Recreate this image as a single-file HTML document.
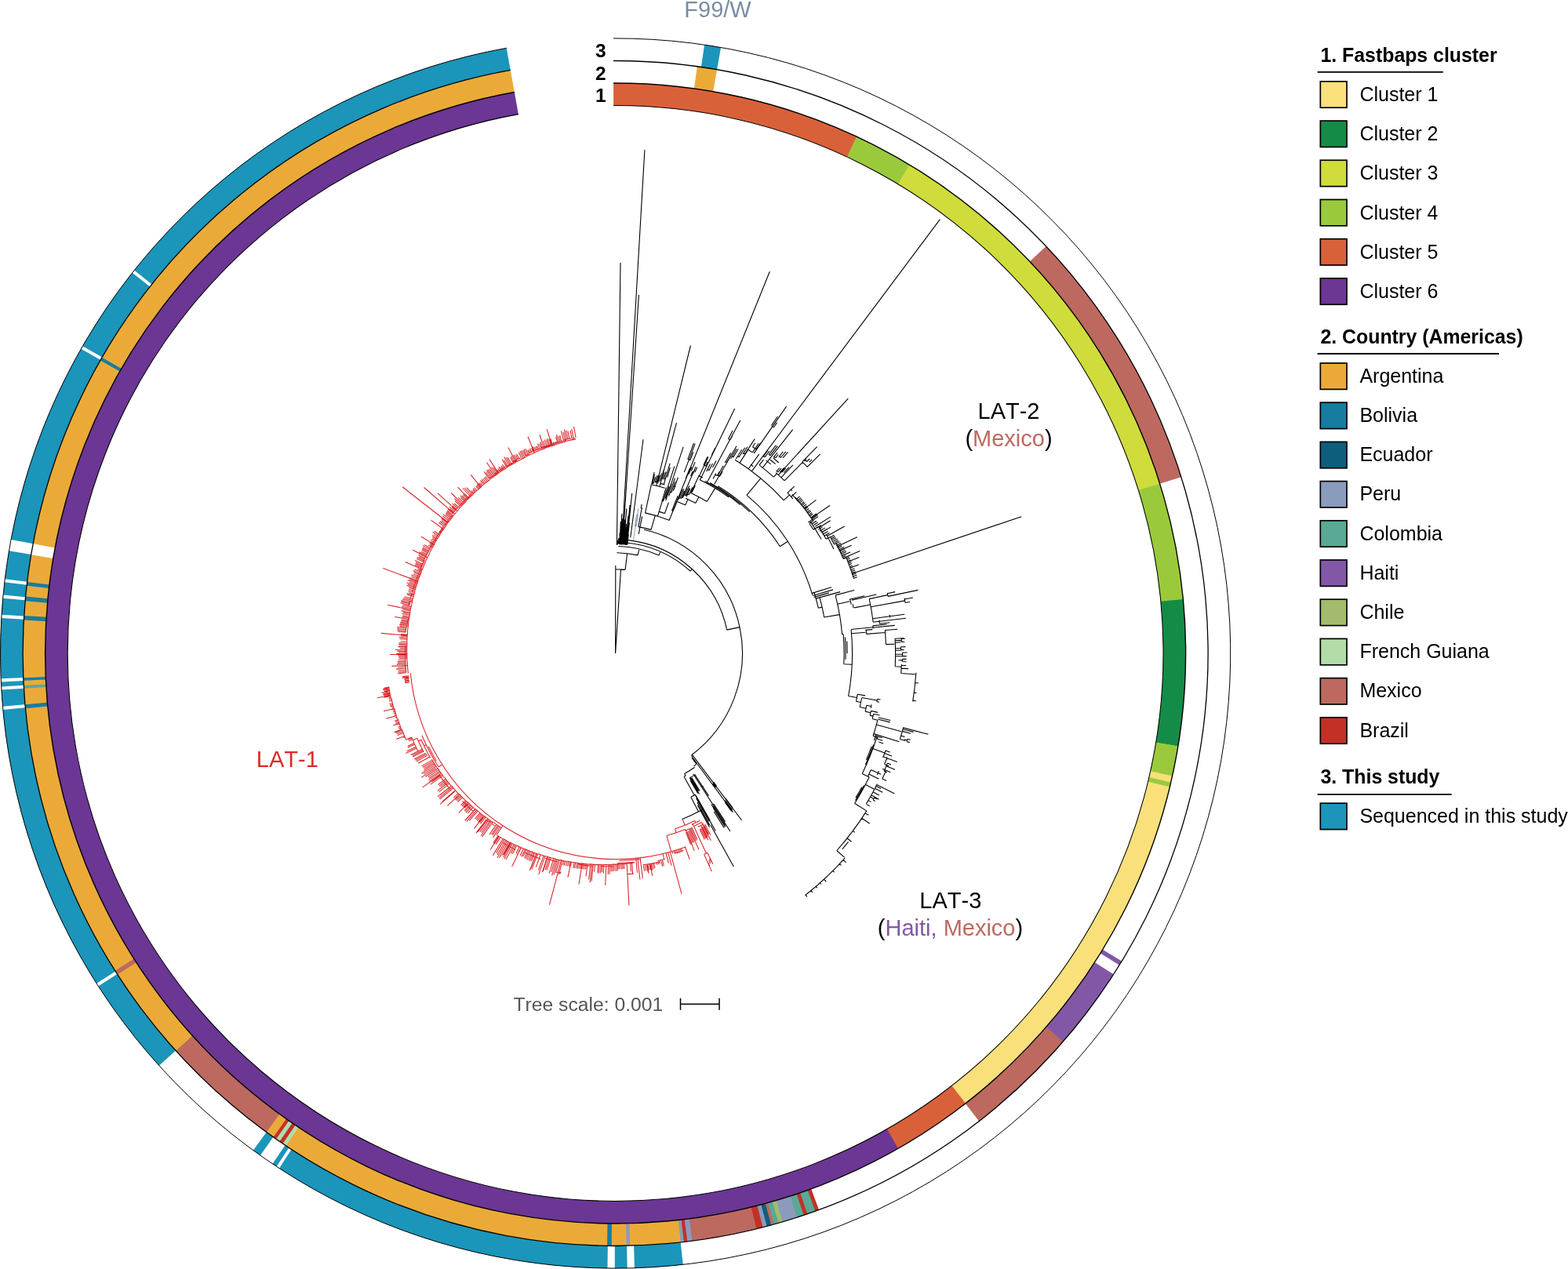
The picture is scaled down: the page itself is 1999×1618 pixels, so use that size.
<!DOCTYPE html>
<html lang="en">
<head>
<meta charset="utf-8">
<title>Circular phylogeny: LAT-1, LAT-2, LAT-3</title>
<style>
html,body{margin:0;padding:0;background:#fff;}
body{width:1999px;height:1618px;overflow:hidden;}
svg{display:block;}
text{white-space:pre;font-kerning:none;}
</style>
</head>
<body>
<svg width="1999" height="1618" viewBox="0 0 1999 1618">
<rect width="1999" height="1618" fill="#fff"/>
<g id="tree">
<path d="M870.0 1044.4L873.2 1052.3M886.0 1046.6A236.5 236.5 0 0 1 860.4 1057.0M860.4 1057.0L862.1 1061.8M873.5 1057.6A241.6 241.6 0 0 1 850.0 1065.6M850.0 1065.6L855.5 1085.2M873.5 1057.6L874.1 1058.9M882.7 1055.3A243.0 243.0 0 0 1 873.3 1059.2M882.3 1055.5L888.9 1070.5M881.1 1056.7L887.6 1071.8M879.8 1057.7L886.1 1072.6M878.5 1058.5L884.8 1073.7M877.4 1059.9L883.3 1074.5M875.9 1060.4L882.1 1075.8M874.5 1061.3L880.6 1076.8M879.5 1056.7L890.9 1083.4M874.8 1058.6L885.2 1084.6M886.0 1046.6L887.1 1048.9M892.4 1046.3A239.0 239.0 0 0 1 881.8 1051.3M894.5 1048.6A242.0 242.0 0 0 1 885.3 1053.0M897.3 1050.5A245.0 245.0 0 0 1 889.7 1054.3M898.6 1051.0L905.8 1064.8M897.6 1052.3L903.5 1063.7M896.6 1053.4L902.8 1065.6M895.4 1054.2L902.1 1067.6M894.5 1055.7L900.8 1068.4M893.2 1056.4L899.5 1069.2M892.0 1057.2L898.2 1070.2M883.3 1050.7L900.3 1088.0M902.0 1087.2A280.0 280.0 0 0 1 897.6 1089.2M902.0 1087.2L908.8 1101.7M897.6 1089.2L907.3 1111.1M904.7 1094.2L907.0 1099.1M903.8 1097.0L905.8 1101.3M905.6 1096.1A289.6 289.6 0 0 1 903.8 1097.0M902.7 1099.6L904.7 1104.0M894.5 1048.6L906.3 1071.8M893.5 1052.4L902.9 1071.3M874.4 1079.7A262.5 262.5 0 0 1 523.3 858.2M854.2 1085.6L869.0 1139.6M873.3 1079.5L879.1 1095.5M868.5 1082.3L869.7 1085.9M866.8 1082.8L867.9 1086.3M864.9 1083.5L866.2 1087.6M862.7 1084.1L864.0 1088.3M860.8 1084.7L861.7 1087.6M859.2 1085.2L860.0 1088.1M857.0 1085.8L857.8 1088.7M871.2 1084.5A266.0 266.0 0 0 1 860.1 1088.0M845.0 1088.5L846.7 1095.8M847.6 1095.5A270.0 270.0 0 0 1 838.4 1097.6M841.2 1099.1A272.0 272.0 0 0 1 819.6 1102.7M844.6 1096.9L846.3 1104.2M842.9 1097.5L844.6 1104.9M840.8 1098.1L841.5 1101.5M839.1 1098.7L839.8 1102.1M837.2 1099.2L837.9 1102.6M833.6 1100.3L834.9 1107.1M831.8 1100.8L833.1 1107.8M830.1 1101.3L831.5 1109.7M828.0 1101.8L829.2 1109.0M826.1 1102.3L827.2 1109.3M824.5 1102.7L825.7 1110.9M822.5 1103.2L823.5 1110.0M820.5 1103.6L821.5 1110.7M829.2 1102.3L831.6 1116.6M825.4 1102.9L827.1 1113.8M849.0 1087.5L852.3 1100.6M851.7 1086.8L856.1 1103.7M816.1 1093.6L819.3 1119.9M812.9 1094.0L815.9 1121.3M810.7 1094.2L812.5 1112.6M816.8 1095.5A264.5 264.5 0 0 1 789.2 1097.5M808.8 1099.4A267.5 267.5 0 0 1 786.9 1100.5M799.1 1100.1L802.0 1154.5M805.6 1099.7L806.7 1114.1M807.7 1114.1A282.0 282.0 0 0 1 799.4 1114.6M803.7 1099.8L804.5 1111.3M795.4 1100.8L795.7 1107.9M793.6 1100.8L793.8 1108.2M791.8 1100.9L792.0 1108.2M789.7 1101.0L789.8 1108.1M787.8 1101.0L787.9 1108.5M808.0 1100.2A268.2 268.2 0 0 1 798.4 1100.9M798.7 1101.3A268.7 268.7 0 0 1 789.1 1101.7M789.3 1102.1A269.2 269.2 0 0 1 779.7 1102.1M779.9 1102.6A269.7 269.7 0 0 1 770.3 1102.3M770.5 1102.8A270.1 270.1 0 0 1 760.8 1102.1M761.0 1102.6A270.6 270.6 0 0 1 751.4 1101.6M751.6 1102.1A271.1 271.1 0 0 1 742.0 1100.7M742.1 1101.2A271.6 271.6 0 0 1 732.6 1099.5M732.7 1100.0A272.0 272.0 0 0 1 723.2 1098.0M723.3 1098.5A272.5 272.5 0 0 1 713.8 1096.2M713.9 1096.7A273.0 273.0 0 0 1 704.6 1094.0M704.7 1094.5A273.4 273.4 0 0 1 695.3 1091.5M695.4 1092.0A273.9 273.9 0 0 1 686.2 1088.6M686.3 1089.2A274.4 274.4 0 0 1 677.2 1085.5M677.2 1086.0A274.9 274.9 0 0 1 668.2 1082.0M668.2 1082.5A275.3 275.3 0 0 1 659.4 1078.2M659.4 1078.8A275.8 275.8 0 0 1 650.7 1074.1M650.7 1074.6A276.3 276.3 0 0 1 642.1 1069.7M642.1 1070.2A276.8 276.8 0 0 1 633.9 1065.1M787.1 1101.5L787.2 1110.6M785.2 1101.6L785.2 1111.1M783.1 1101.7L783.0 1110.6M781.3 1101.8L781.1 1111.2M779.3 1101.9L779.2 1111.1M777.5 1101.9L777.2 1114.4M775.6 1102.0L775.2 1114.9M770.0 1102.0L769.3 1113.5M767.9 1102.0L767.3 1112.0M766.2 1102.0L765.5 1113.0M764.3 1102.0L763.4 1113.6M762.6 1101.9L761.7 1112.9M758.6 1101.8L757.7 1111.6M754.8 1101.6L752.2 1125.1M752.9 1101.5L750.6 1121.4M749.1 1101.2L747.0 1117.4M747.5 1101.1L746.4 1108.5M745.5 1100.9L744.4 1108.5M743.7 1100.7L742.5 1108.1M741.5 1100.5L740.3 1108.0M739.6 1100.3L738.4 1107.7M737.7 1100.1L736.4 1107.6M736.0 1099.9L734.7 1107.2M733.9 1099.6L732.5 1107.0M732.2 1099.4L730.8 1106.8M728.5 1098.8L727.2 1104.9M726.7 1098.5L725.4 1104.6M724.8 1098.2L723.4 1104.3M722.8 1097.9L721.4 1104.0M720.7 1097.5L719.3 1103.6M719.0 1097.2L717.5 1103.2M717.1 1096.8L712.5 1115.0M715.4 1096.5L711.1 1113.0M713.2 1096.0L708.6 1113.0M711.4 1095.6L705.9 1115.5M709.7 1095.2L703.6 1116.3M707.9 1094.8L702.8 1111.9M705.9 1094.3L700.2 1113.4M702.2 1093.4L697.1 1109.5M700.4 1092.9L695.2 1109.0M698.5 1092.4L692.3 1111.0M694.9 1091.4L686.8 1114.9M693.1 1090.9L686.5 1109.5M689.2 1089.7L683.3 1105.6M685.6 1088.5L677.9 1108.3M683.9 1088.0L675.3 1109.7M681.8 1087.3L677.6 1097.8M680.2 1086.7L675.5 1098.1M678.5 1086.1L674.0 1096.7M676.5 1085.4L671.8 1096.4M674.7 1084.7L670.1 1095.4M673.1 1084.1L668.7 1094.0M671.0 1083.3L667.0 1092.1M669.5 1082.7L665.1 1092.2M667.5 1081.9L663.2 1091.1M664.1 1080.5L659.7 1089.5M662.2 1079.6L657.8 1088.3M658.7 1078.1L653.3 1088.7M657.0 1077.3L651.4 1088.0M655.3 1076.6L645.0 1096.1M653.3 1075.6L642.9 1094.9M651.7 1074.9L641.8 1093.0M649.8 1073.9L640.4 1090.8M648.2 1073.2L636.5 1093.7M646.5 1072.3L634.1 1093.7M644.8 1071.4L634.0 1090.0M642.9 1070.4L632.7 1087.6M641.2 1069.5L628.4 1090.6M637.8 1067.6L632.1 1076.7M636.2 1066.8L630.6 1075.7M634.7 1065.9L628.9 1074.9M756.1 1104.5A273.0 273.0 0 0 1 737.2 1101.9M710.8 1099.0A276.0 276.0 0 0 1 694.7 1094.0M689.2 1095.2A279.0 279.0 0 0 1 668.9 1086.9M782.2 1105.0A272.0 272.0 0 0 1 765.6 1104.3M657.0 1083.4A281.0 281.0 0 0 1 639.9 1073.9M715.6 1096.1L700.5 1153.6M772.8 1102.7L771.7 1128.7M664.5 1080.4L652.7 1104.7M635.8 1066.6L625.0 1083.5M742.2 1100.7L738.0 1127.3M697.7 1092.8L691.3 1111.8M683.8 1088.9L676.1 1108.4M650.8 1074.4L642.1 1090.1M756.3 1102.5L754.1 1123.4M728.0 1099.1L723.9 1118.6M715.2 1111.5L714.7 1113.4M714.7 1113.4A289.0 289.0 0 0 1 709.8 1112.2M640.9 1052.7L632.9 1064.8M639.8 1055.9A265.8 265.8 0 0 1 628.2 1047.9M628.1 1048.5A266.3 266.3 0 0 1 616.8 1039.8M616.6 1040.4A266.9 266.9 0 0 1 605.8 1031.2M605.6 1031.7A267.4 267.4 0 0 1 595.3 1021.9M595.1 1022.5A268.0 268.0 0 0 1 585.3 1012.2M585.0 1012.7A268.6 268.6 0 0 1 575.7 1001.8M575.5 1002.4A269.1 269.1 0 0 1 566.7 991.0M566.4 991.5A269.7 269.7 0 0 1 558.3 979.7M558.0 980.2A270.2 270.2 0 0 1 550.5 967.9M637.4 1054.5L630.3 1065.2M635.7 1053.5L628.2 1064.7M634.4 1052.7L626.6 1064.1M632.7 1051.6L624.1 1063.9M628.0 1048.5L614.7 1066.9M626.5 1047.5L613.1 1065.8M625.1 1046.6L614.0 1061.5M623.5 1045.4L612.0 1060.6M621.9 1044.3L609.1 1060.9M618.9 1042.1L612.3 1050.4M617.5 1041.1L611.4 1048.7M616.1 1040.1L609.8 1047.9M614.6 1038.9L608.2 1046.7M613.1 1037.8L607.1 1045.0M611.8 1036.7L605.4 1044.2M608.7 1034.3L598.4 1046.1M607.4 1033.2L595.0 1047.3M605.9 1031.9L593.4 1045.9M603.0 1029.5L596.3 1036.9M601.5 1028.2L594.0 1036.2M600.1 1027.0L593.0 1034.5M599.0 1026.0L592.0 1033.3M597.6 1024.8L592.3 1030.2M596.2 1023.5L590.8 1028.9M594.8 1022.2L589.0 1028.0M593.5 1020.9L587.7 1026.5M589.3 1016.9L583.4 1022.5M588.0 1015.6L582.4 1020.7M586.7 1014.3L580.7 1019.8M585.4 1013.0L579.5 1018.3M584.1 1011.6L578.1 1016.9M580.4 1007.7L564.0 1021.8M577.8 1004.8L560.5 1019.1M576.7 1003.5L559.8 1017.4M575.4 1002.1L561.5 1013.4M572.9 999.2L559.5 1009.8M571.6 997.7L557.7 1008.4M570.5 996.3L561.5 1003.1M569.3 994.9L559.8 1002.1M568.1 993.3L558.5 1000.5M564.7 988.9L548.8 1000.1M563.6 987.5L550.8 996.5M562.4 986.0L547.2 996.4M561.3 984.4L546.5 994.4M560.3 983.1L546.9 992.1M559.2 981.6L545.6 990.6M558.1 980.0L542.4 990.3M556.0 977.0L540.3 986.9M554.9 975.4L537.5 986.2M553.9 973.8L540.3 982.2M552.9 972.4L540.6 979.8M551.8 970.7L539.0 978.3M550.8 969.1L537.4 976.9M630.6 1052.9A268.5 268.5 0 0 1 619.3 1044.6M603.3 1034.4A271.0 271.0 0 0 1 589.7 1021.3M575.5 1008.5A273.0 273.0 0 0 1 561.0 989.6M620.3 1044.8L606.9 1062.1M616.3 1041.6L604.4 1056.4M636.3 1056.2L628.5 1067.9M584.6 1014.4L570.5 1027.1M579.9 1009.1L561.0 1025.4M574.5 1002.6L558.1 1015.7M561.2 988.2L538.7 1003.9M555.5 979.5L536.9 991.4M605.3 1032.2L592.6 1046.3M596.1 1024.9L584.8 1036.3M563.7 974.8L559.1 977.8M559.1 977.8A268.0 268.0 0 0 1 537.9 937.7M556.3 970.2A266.3 266.3 0 0 1 546.3 951.8M543.3 949.6L540.6 950.9M548.7 966.4A271.0 271.0 0 0 1 537.0 943.2M537.0 943.2L533.4 944.9M539.6 957.8A275.0 275.0 0 0 1 531.8 941.3M531.8 941.3L526.3 943.7M532.9 957.9A281.0 281.0 0 0 1 524.8 940.1M524.8 940.1L517.9 942.9M547.5 965.2L533.0 973.3M545.2 962.9L530.9 970.7M544.0 961.5L529.4 969.3M542.8 960.2L528.3 967.8M540.5 957.7L526.1 965.1M539.4 956.5L525.9 963.2M538.3 955.3L523.6 962.6M531.0 954.0L517.4 960.4M530.2 952.4L518.7 957.7M528.7 949.1L519.9 953.1M528.0 947.6L519.8 951.2M525.9 942.7L521.1 944.7M525.2 941.0L520.4 943.0M517.5 943.1A288.9 288.9 0 0 1 512.4 929.7M511.7 930.2A289.7 289.7 0 0 1 507.2 916.5M506.5 917.0A290.5 290.5 0 0 1 502.7 903.0M502.0 903.5A291.3 291.3 0 0 1 498.8 889.3M498.1 889.7A292.1 292.1 0 0 1 495.6 875.4M515.9 939.7L514.0 940.4M513.7 934.8L506.7 937.4M512.9 932.9L505.6 935.6M512.2 931.2L504.0 934.2M511.5 929.7L509.0 930.5M510.8 927.9L508.3 928.8M510.1 926.3L507.7 927.1M508.8 922.8L505.3 924.0M508.1 921.2L504.3 922.4M507.4 919.4L503.8 920.5M506.9 917.9L503.2 919.0M505.6 914.4L503.7 915.0M505.0 912.6L503.0 913.1M504.4 910.7L502.4 911.3M503.8 909.0L501.8 909.5M503.2 907.2L501.2 907.8M502.7 905.5L500.7 906.0M502.2 904.0L500.2 904.5M501.6 901.9L499.6 902.4M501.0 900.2L497.7 900.9M500.6 898.6L497.2 899.4M500.0 896.7L496.5 897.5M499.1 893.3L496.4 893.9M498.6 891.5L495.9 892.0M498.1 889.6L495.4 890.1M497.2 887.6L489.6 889.1M497.0 886.4L489.6 887.7M496.7 884.9L488.6 886.4M496.5 883.6L488.7 884.9M496.0 880.5L489.9 881.5M495.8 879.2L488.9 880.3M495.5 877.5L488.8 878.6M495.3 876.4L489.4 877.3M494.8 888.3A295.0 295.0 0 0 1 492.8 876.6M497.6 886.7L480.9 889.8M502.2 903.4L489.1 906.7M504.7 912.7L492.2 916.3M511.4 930.3L502.5 933.5M496.7 881.7L486.8 883.4M496.0 877.7L488.1 878.9M508.8 922.6L501.2 925.1M515.5 938.4L505.3 942.5M522.2 870.0L516.2 870.8M522.0 868.5L516.0 869.3M521.8 867.3L515.9 868.1M521.6 865.7L515.7 866.5M521.5 864.4L515.5 865.1M521.3 863.1L512.7 864.1M521.2 861.8L513.2 862.6M520.3 858.5A265.6 265.6 0 0 1 519.3 845.1M519.1 845.4A265.8 265.8 0 0 1 518.8 832.0M518.6 832.2A266.0 266.0 0 0 1 519.0 818.8M518.7 819.1A266.3 266.3 0 0 1 519.7 805.7M519.4 805.9A266.6 266.6 0 0 1 521.1 792.6M520.8 792.8A266.9 266.9 0 0 1 523.1 779.6M522.8 779.7A267.2 267.2 0 0 1 525.8 766.6M525.4 766.8A267.6 267.6 0 0 1 529.0 753.8M528.6 753.9A267.9 267.9 0 0 1 532.9 741.1M532.5 741.2A268.3 268.3 0 0 1 537.4 728.7M537.0 728.7A268.7 268.7 0 0 1 542.5 716.4M542.1 716.4A269.1 269.1 0 0 1 548.2 704.4M547.8 704.4A269.5 269.5 0 0 1 554.5 692.7M554.0 692.6A269.9 269.9 0 0 1 561.4 681.2M560.9 681.2A270.4 270.4 0 0 1 568.8 670.1M568.3 670.0A270.8 270.8 0 0 1 576.8 659.4M576.3 659.3A271.2 271.2 0 0 1 585.3 649.0M584.8 648.9A271.7 271.7 0 0 1 594.3 639.0M593.8 638.9A272.2 272.2 0 0 1 603.8 629.5M603.4 629.3A272.6 272.6 0 0 1 613.8 620.5M613.3 620.2A273.1 273.1 0 0 1 624.3 611.9M623.8 611.6A273.6 273.6 0 0 1 635.1 603.8M634.6 603.6A274.1 274.1 0 0 1 646.4 596.3M645.9 596.0A274.6 274.6 0 0 1 658.0 589.3M657.6 589.0A275.1 275.1 0 0 1 670.0 582.9M669.6 582.5A275.6 275.6 0 0 1 682.3 577.1M681.9 576.7A276.1 276.1 0 0 1 694.9 571.8M694.5 571.4A276.7 276.7 0 0 1 707.8 567.2M707.4 566.8A277.2 277.2 0 0 1 720.9 563.2M720.6 562.8A277.7 277.7 0 0 1 734.2 559.9M517.3 851.7A268.0 268.0 0 0 1 516.8 823.6M520.9 772.1A270.6 270.6 0 0 1 541.3 714.4M549.1 697.0A272.0 272.0 0 0 1 564.6 673.1M581.2 649.9A273.7 273.7 0 0 1 601.5 629.6M630.2 604.1A276.1 276.1 0 0 1 659.2 587.0M689.2 571.0A278.9 278.9 0 0 1 721.9 561.3M517.7 857.8L507.4 858.7M517.6 856.2L507.5 857.0M517.4 854.2L507.5 855.0M517.2 852.3L505.1 853.1M517.1 850.3L507.0 851.0M516.9 848.5L508.2 849.0M516.8 846.6L505.8 847.1M516.7 844.8L506.9 845.2M516.6 843.2L506.8 843.6M516.5 841.2L507.7 841.5M517.7 857.8A268.0 268.0 0 0 1 516.7 839.3M518.9 839.2L508.8 839.5M518.9 837.5L508.0 837.6M518.8 835.5L507.5 835.6M518.8 833.6L505.2 833.6M518.7 831.8L507.9 831.7M518.7 830.2L506.3 830.1M518.7 828.5L503.8 828.2M518.7 826.7L510.2 826.5M518.7 824.9L507.5 824.6M518.7 823.3L508.7 823.0M518.8 821.8L508.2 821.3M518.8 820.2L508.6 819.7M518.9 818.2L510.7 817.8M519.0 815.1L509.4 814.5M519.1 813.2L508.8 812.4M519.2 811.2L511.2 810.6M519.3 809.3L510.9 808.5M517.0 806.1L507.2 805.1M517.2 804.5L506.5 803.4M517.3 802.7L506.4 801.5M517.5 801.0L506.2 799.6M517.0 806.1A268.9 268.9 0 0 1 517.8 799.4M518.6 799.5L509.7 798.4M518.8 797.7L509.2 796.4M519.0 796.1L510.0 794.9M519.2 794.4L510.4 793.1M519.4 792.6L511.5 791.4M519.6 791.0L511.6 789.8M518.6 799.5A268.1 268.1 0 0 1 520.1 789.3M521.4 789.5L503.2 786.5M521.6 787.9L512.6 786.4M521.9 786.2L513.3 784.7M522.2 784.3L512.5 782.5M522.4 782.5L514.0 780.9M522.7 781.0L511.3 778.7M523.0 779.0L513.2 777.0M523.4 777.3L512.2 774.9M523.7 775.5L512.3 773.0M524.1 773.6L513.3 771.2M522.0 771.5L510.4 768.8M522.3 769.7L511.5 767.1M522.7 768.2L511.5 765.4M522.0 771.5A269.7 269.7 0 0 1 523.2 766.5M525.5 767.0L513.1 763.9M525.8 765.5L514.4 762.5M526.3 763.6L515.5 760.7M527.0 760.6L518.9 758.3M527.4 759.0L518.4 756.4M527.8 757.5L521.3 755.6M528.3 755.6L520.4 753.2M528.9 753.7L521.1 751.3M529.4 751.8L521.4 749.3M529.8 750.3L518.4 746.6M530.3 748.8L519.9 745.3M530.8 747.2L518.7 743.1M531.3 745.5L522.0 742.3M531.8 743.8L519.6 739.5M532.3 742.3L522.3 738.7M532.9 740.5L521.8 736.4M533.6 738.6L524.5 735.2M534.2 736.7L524.2 732.9M534.9 734.9L527.2 731.9M535.5 733.0L527.5 729.8M536.2 731.4L526.5 727.4M536.9 729.5L528.5 726.0M537.5 727.9L532.2 725.6M538.2 726.2L532.6 723.8M536.5 723.5L529.1 720.2M537.2 722.1L529.5 718.6M537.8 720.6L530.0 717.0M538.5 718.9L529.1 714.6M536.5 723.5A271.1 271.1 0 0 1 539.3 717.5M539.6 716.3L531.3 712.4M540.3 714.7L531.6 710.5M539.6 716.3A271.4 271.4 0 0 1 541.1 713.3M541.0 713.2L534.1 709.9M541.7 711.8L533.6 707.7M542.4 710.1L533.6 705.6M543.3 708.3L534.4 703.8M544.1 706.7L537.3 703.2M544.9 704.9L537.8 701.1M545.7 703.5L538.4 699.5M546.4 702.0L538.8 697.9M547.3 700.3L538.9 695.6M548.1 698.7L540.6 694.4M541.0 713.2A271.5 271.5 0 0 1 549.6 697.2M551.2 698.2L546.0 695.1M552.0 696.8L547.8 694.3M552.9 695.2L547.5 692.0M553.7 693.6L549.3 690.9M554.6 692.1L548.7 688.4M555.6 690.3L550.6 687.2M556.6 688.6L551.3 685.3M557.5 687.1L550.8 682.8M558.5 685.4L552.7 681.6M559.6 683.7L551.7 678.5M560.6 682.0L553.7 677.3M561.7 680.4L559.3 678.7M562.5 679.0L559.8 677.1M563.5 677.5L561.2 675.9M564.5 676.0L562.1 674.3M565.4 674.7L549.4 663.1M566.3 673.3L563.7 671.5M566.0 671.1L559.4 666.3M567.1 669.5L560.8 664.7M568.3 667.9L562.8 663.7M569.4 666.4L562.8 661.3M570.3 665.1L564.3 660.4M566.0 671.1A272.0 272.0 0 0 1 571.7 663.7M571.5 663.5L564.3 657.8M572.7 661.9L565.2 655.9M573.8 660.4L568.1 655.8M574.8 659.2L568.5 654.0M575.8 657.9L569.3 652.5M571.5 663.5A272.3 272.3 0 0 1 577.0 656.8M576.0 656.0L570.2 651.0M577.2 654.4L571.0 649.0M578.3 653.1L573.6 649.1M579.3 651.9L572.8 646.2M580.5 650.5L576.1 646.6M581.6 649.1L577.2 645.1M582.8 647.7L576.4 641.8M584.0 646.3L579.4 642.0M576.0 656.0A273.6 273.6 0 0 1 585.4 645.4M586.6 644.9L580.0 638.6M587.8 643.5L579.5 635.6M586.6 644.9A273.1 273.1 0 0 1 589.2 642.2M589.1 642.1L575.2 628.5M590.5 640.6L584.1 634.3M591.9 639.1L587.2 634.4M589.1 642.1A273.2 273.2 0 0 1 593.1 638.1M593.0 637.9L587.0 631.8M594.1 636.8L589.3 631.8M595.4 635.5L590.4 630.3M596.6 634.2L592.4 629.6M593.0 637.9A273.4 273.4 0 0 1 598.1 633.1M598.8 632.0L590.0 622.5M600.2 630.6L592.3 622.0M601.6 629.2L594.8 621.6M598.8 632.0A273.7 273.7 0 0 1 602.9 628.2M603.8 629.2L600.6 625.6M605.3 627.9L602.6 624.8M606.4 626.7L603.1 622.8M607.8 625.5L604.7 621.9M609.9 623.6L606.7 619.8M611.1 622.6L607.9 618.7M612.3 621.5L608.4 616.8M613.8 620.2L610.4 615.9M615.2 619.0L612.2 615.3M616.7 617.7L612.5 612.4M618.1 616.5L614.1 611.4M619.6 615.3L615.7 610.0M621.2 614.0L617.4 608.9M622.8 612.8L618.9 607.6M623.5 610.3L616.9 601.3M624.7 609.3L619.6 602.1M626.3 608.1L620.4 599.6M627.7 607.1L621.8 598.6M629.3 605.9L623.8 597.9M630.7 604.8L620.4 589.5M632.2 603.7L626.7 595.5M633.6 602.8L629.1 596.0M623.5 610.3A274.9 274.9 0 0 1 635.5 602.1M636.0 602.9L633.5 599.0M637.7 601.7L634.8 597.3M639.3 600.6L635.9 595.1M640.8 599.6L638.3 595.5M642.2 598.7L639.4 594.0M643.7 597.7L640.5 592.3M645.5 594.8L640.1 585.5M646.9 593.9L642.7 586.7M648.6 592.8L642.7 582.4M650.2 591.9L645.3 583.2M651.6 591.0L647.3 583.3M645.5 594.8A275.9 275.9 0 0 1 653.1 590.5M653.6 588.7L650.5 583.1M655.0 587.9L651.7 581.6M656.7 586.9L653.6 580.7M658.2 586.1L655.1 580.1M659.8 585.2L657.3 580.3M661.4 584.3L658.7 578.8M653.6 588.7A277.2 277.2 0 0 1 663.4 583.7M665.4 585.0L661.4 576.8M667.1 584.1L663.0 575.3M668.8 583.2L664.7 574.4M669.8 581.0L666.7 574.3M671.2 580.3L667.9 572.8M673.1 579.4L669.8 572.0M669.8 581.0A276.9 276.9 0 0 1 674.8 578.8M674.3 577.7L672.6 573.7M675.8 577.0L674.3 573.3M677.5 576.2L675.5 571.4M679.4 575.4L677.7 571.2M681.2 574.5L679.2 569.5M682.9 573.8L681.4 570.0M684.6 573.0L683.1 569.1M686.1 572.4L684.7 568.7M674.3 577.7A278.1 278.1 0 0 1 688.0 572.2M688.2 572.6L685.6 565.7M690.1 571.9L687.8 565.6M691.6 571.2L688.8 563.5M693.5 570.5L687.9 554.3M695.2 569.8L692.6 562.1M697.1 569.1L694.3 560.6M699.0 568.4L696.5 560.7M700.6 567.8L697.7 558.8M702.3 567.2L700.0 559.6M704.1 566.6L702.0 559.6M688.2 572.6A277.7 277.7 0 0 1 706.0 566.7M706.2 567.4L705.2 563.9M707.8 566.9L706.8 563.3M709.5 566.3L708.6 563.0M710.7 564.4L708.6 556.6M712.3 563.9L709.6 554.0M714.1 563.4L712.2 556.2M715.8 562.8L713.8 554.8M710.7 564.4A278.6 278.6 0 0 1 717.5 562.6M718.4 561.1L715.5 549.5M720.3 560.5L718.1 551.2M722.1 560.0L719.3 547.7M723.9 559.5L721.5 548.7M725.9 559.0L723.8 549.4M718.4 561.1A279.9 279.9 0 0 1 727.8 558.9M729.1 559.3L727.0 548.8M731.1 558.8L728.8 546.9M729.1 559.3A279.3 279.3 0 0 1 732.9 558.5M734.1 558.1L731.5 543.9M519.4 848.3L499.5 849.4M518.8 834.4L497.0 834.5M519.3 810.3L486.0 807.4M523.3 777.5L494.1 771.3M532.8 740.9L488.3 724.6M571.3 666.3L513.0 620.8M579.6 655.4L540.5 621.5M582.9 651.4L557.9 628.9M538.3 725.9L516.8 716.6M544.8 710.8L526.2 701.3M553.5 694.1L536.9 684.2M597.3 635.6L583.6 621.2M612.9 621.0L600.2 605.3M635.4 603.3L623.9 585.6M657.7 589.2L647.9 570.4M681.3 577.2L673.0 556.7M703.7 568.3L697.2 547.1" fill="none" stroke="#D8262A" stroke-width="1.08" stroke-linecap="butt" />
<path d="M807.4 688.8L813.9 648.3M809.4 670.9L811.7 656.1M811.1 671.2L813.5 656.4M809.4 670.9A164.0 164.0 0 0 1 811.1 671.2M810.5 664.0A171.0 171.0 0 0 1 812.2 664.2M811.7 656.1A179.0 179.0 0 0 1 813.5 656.4" fill="none" stroke="#8A9CB4" stroke-width="1.0" stroke-linecap="butt" />
<path d="M784.6 833.0L784.8 721.0M784.6 833.0L791.5 725.9M785.2 725.7A107.3 107.3 0 0 1 797.1 726.4M797.1 726.4L799.6 705.6M786.4 704.7A128.3 128.3 0 0 1 813.0 707.9M813.0 707.9L814.9 699.8M788.4 696.5A136.6 136.6 0 0 1 839.9 708.1M839.9 708.1L842.0 703.4M796.0 691.7A141.8 141.8 0 0 1 880.0 728.1M880.0 728.1L882.3 725.6M800.0 688.6A145.2 145.2 0 0 1 926.7 803.1M926.7 803.1L943.1 799.6M821.0 675.2A162.0 162.0 0 0 1 881.6 962.7M786.5 694.1L786.6 688.5M786.9 692.9L786.9 688.4M787.3 693.0L787.3 689.9M787.7 694.3L787.8 691.0M788.2 692.1L788.3 688.6M788.5 692.7L788.7 685.9M789.0 693.4L789.2 686.5M789.3 692.0L789.5 687.8M789.7 694.2L790.2 679.0M790.3 694.1L791.1 674.2M790.6 693.5L791.5 674.2M790.9 694.5L791.5 681.0M791.5 693.4L792.2 678.1M791.9 693.3L792.6 678.3M792.4 692.6L793.1 678.5M792.7 693.2L794.1 668.3M793.1 693.9L794.7 667.3M793.4 693.5L794.8 670.7M793.8 693.3L794.5 682.7M794.4 692.5L795.8 672.9M794.7 693.9L796.3 672.2M795.1 693.2L796.5 675.5M795.7 692.1L797.1 674.1M795.8 694.8L797.6 672.9M796.5 692.0L798.5 668.1M796.6 693.9L798.5 672.6M797.0 693.7L798.1 680.9M797.3 694.9L799.4 671.9M797.8 694.4L799.4 677.8M798.3 694.9L800.1 677.4M798.9 692.6L801.3 668.8M799.2 694.4L801.0 677.5M799.6 692.7L802.4 666.5M799.8 694.8L801.3 680.9M789.8 693.6A139.5 139.5 0 0 1 794.6 693.9M791.1 692.1A141.0 141.0 0 0 1 794.8 692.4M789.1 690.1A143.0 143.0 0 0 1 793.7 690.3M790.4 688.6A144.5 144.5 0 0 1 795.8 688.9M792.6 686.7A146.5 146.5 0 0 1 798.7 687.2M791.1 684.6A148.5 148.5 0 0 1 796.9 685.0M791.8 682.7A150.5 150.5 0 0 1 794.7 682.8M792.8 680.2A153.0 153.0 0 0 1 799.6 680.7M792.8 677.2A156.0 156.0 0 0 1 799.9 677.7M791.1 674.1A159.0 159.0 0 0 1 796.1 674.4M791.4 683.2L792.7 655.2M792.5 683.2L793.6 661.2M796.1 683.4L798.8 648.5M798.5 683.6L800.9 657.8M799.2 683.7L803.1 643.9M790.6 683.1L791.3 665.1M795.1 683.4L796.5 662.4M786.4 695.0L791.0 335.0M793.3 683.3L821.9 191.1M794.4 683.3L814.4 376.0M803.8 685.2L820.0 560.3M800.0 683.8L805.7 629.1M814.2 680.8L818.6 658.3M813.6 671.6A164.0 164.0 0 0 1 830.1 675.4M813.9 671.6L818.2 648.0M817.2 647.9A188.0 188.0 0 0 1 819.2 648.2M817.2 647.9L818.1 642.9M830.1 675.4L835.3 657.2M822.3 653.9A183.0 183.0 0 0 1 853.7 663.6M822.6 654.0L830.3 617.8M830.3 617.8A220.0 220.0 0 0 1 847.5 622.2M831.7 616.8L834.4 604.6M833.5 616.2L835.3 608.1M831.9 615.9A222.2 222.2 0 0 1 833.5 616.2M835.4 615.1L837.4 606.4M837.3 614.1L839.2 606.1M835.7 613.7A225.2 225.2 0 0 1 837.3 614.1M838.8 614.5L841.0 605.8M840.7 613.6L843.3 603.4M839.2 613.2A226.5 226.5 0 0 1 840.7 613.6M842.5 613.2L846.1 599.5M844.8 610.8L847.2 602.3M843.2 610.4A230.2 230.2 0 0 1 844.8 610.8M846.4 611.3L849.2 601.4M848.4 610.5L850.8 602.1M846.8 610.0A231.5 231.5 0 0 1 848.4 610.5M850.7 608.5L854.3 596.0M835.0 614.7A224.0 224.0 0 0 1 839.5 615.8M841.8 616.4A224.0 224.0 0 0 1 847.5 618.0M836.8 619.3L880.4 440.5M840.9 620.3L862.5 539.1M830.7 617.9L834.1 602.2M846.3 617.7L854.1 590.8M838.4 658.1L845.2 636.1M840.2 652.4A189.0 189.0 0 0 1 847.1 654.6M847.4 654.7L852.4 640.6M843.8 639.4L849.3 621.5M845.5 639.0L849.7 625.5M844.0 638.6A203.3 203.3 0 0 1 845.5 639.0M848.3 635.5L853.2 620.2M851.4 630.9L856.1 616.8M849.9 630.4A212.9 212.9 0 0 1 851.4 630.9M852.6 632.6L860.4 609.6M855.9 628.0L860.7 614.1M854.3 627.4A217.1 217.1 0 0 1 855.9 628.0M858.4 625.7L862.8 613.3M848.6 638.3L871.1 569.9M846.5 636.5L859.8 594.6M856.8 650.8L864.1 632.2M856.1 650.5A196.0 196.0 0 0 1 858.0 651.3M853.2 663.3L981.3 346.2M872.3 602.1L886.2 565.6M876.8 585.6A264.0 264.0 0 0 1 879.9 586.8M876.8 585.6L884.5 565.0M879.9 586.8L883.8 576.5M860.4 620.1L864.4 608.8M859.3 619.7A226.0 226.0 0 0 1 861.5 620.5M858.3 651.4L863.2 639.4M863.2 639.4A209.0 209.0 0 0 1 873.9 644.0M873.6 643.9L877.0 636.7M873.9 635.2A217.0 217.0 0 0 1 886.8 641.6M886.8 641.6L891.0 633.6M880.8 628.5A226.0 226.0 0 0 1 901.3 639.5M901.3 639.5L911.7 622.4M864.2 637.9L870.1 623.6M866.8 635.5L872.0 623.1M865.4 634.9A214.0 214.0 0 0 1 866.8 635.5M868.3 635.9L872.5 625.9M870.4 634.7L875.9 622.0M869.0 634.2A216.0 216.0 0 0 1 870.4 634.7M873.1 632.3L878.8 619.5M875.1 631.5L879.2 622.6M873.7 630.9A220.9 220.9 0 0 1 875.1 631.5M875.0 633.6L879.8 623.1M878.5 630.7L882.9 621.2M876.7 629.9A223.0 223.0 0 0 1 878.5 630.7M882.0 628.0L886.3 618.9M874.1 610.4L879.4 597.2M878.0 604.6L881.8 595.5M876.6 604.0A246.8 246.8 0 0 1 878.0 604.6M881.4 600.4L886.1 589.3M870.4 633.7L887.0 595.1M880.5 607.1L883.2 600.7M883.5 604.0L885.8 598.6M882.1 603.4A249.4 249.4 0 0 1 883.5 604.0M886.0 602.1L888.7 595.8M880.8 628.5L891.0 606.8M891.7 611.5A246.0 246.0 0 0 1 929.2 634.0M898.8 613.6A247.3 247.3 0 0 1 943.6 643.6M905.1 615.6A248.6 248.6 0 0 1 955.7 652.7M915.3 619.7A250.2 250.2 0 0 1 994.4 696.7M892.4 611.9L936.7 521.1M901.3 615.3L943.8 536.0M891.4 607.0L903.0 582.6M890.3 606.4A250.0 250.0 0 0 1 895.8 609.1M897.0 593.0A265.0 265.0 0 0 1 899.5 594.2M897.0 593.0L902.1 582.2M899.5 594.2L902.1 588.8M900.6 601.3L905.5 591.6M904.0 599.7L908.5 590.9M902.0 598.6A262.1 262.1 0 0 1 904.0 599.7M908.5 596.0L913.0 587.4M907.3 580.2L911.7 571.2M928.5 559.5A309.0 309.0 0 0 1 930.9 560.8M928.5 559.5L934.1 548.9M930.9 560.8L933.7 555.5M909.0 610.4L912.8 603.6M914.3 606.5L917.3 601.2M911.9 605.2A261.0 261.0 0 0 1 914.3 606.5M910.7 617.2L939.0 568.8M924.3 590.1L931.6 577.4M926.7 589.4L933.6 577.7M925.2 588.5A282.0 282.0 0 0 1 926.7 589.4M931.6 584.7L939.0 572.2M934.8 582.9L941.1 572.5M933.2 582.0A291.7 291.7 0 0 1 934.8 582.9M915.2 605.9A262.0 262.0 0 0 1 917.6 607.3M915.2 605.9L922.2 593.7M917.6 607.3L921.1 601.2M952.0 631.4L969.8 609.9M937.0 586.3A290.0 290.0 0 0 1 999.1 637.8M938.2 585.2L945.7 573.2M942.2 582.8L949.7 570.8M940.4 581.7A295.7 295.7 0 0 1 942.2 582.8M947.0 579.1L952.9 569.8M949.7 578.8L957.8 566.3M947.9 577.7A303.1 303.1 0 0 1 949.7 578.8M943.0 590.1L953.3 574.1M953.9 573.3A310.0 310.0 0 0 1 958.8 576.6M952.9 573.9L962.2 559.6M959.3 576.9L967.2 565.3M959.5 569.8A316.0 316.0 0 0 1 964.0 572.9M959.5 569.8L962.8 564.8M964.0 572.9L969.7 564.7M961.1 578.1L1002.6 518.1M983.5 542.6A352.0 352.0 0 0 1 986.5 544.7M983.5 542.6L991.4 531.0M986.5 544.7L990.5 538.9M954.2 597.8L967.7 579.1M956.9 592.3A296.0 296.0 0 0 1 960.3 594.8M958.3 600.8L1198.4 279.6M968.4 593.4A302.0 302.0 0 0 1 986.3 608.2M968.0 593.1L973.5 585.9M972.8 582.3L978.9 574.2M975.0 582.9L981.0 575.0M973.3 581.6A314.3 314.3 0 0 1 975.0 582.9M980.0 579.7L989.4 567.6M981.9 580.8L991.3 568.6M980.2 579.5A320.2 320.2 0 0 1 981.9 580.8M987.1 577.5L995.8 566.5M972.2 596.3L1010.7 547.7M976.7 587.1A312.0 312.0 0 0 1 982.6 591.9M981.7 586.0A316.0 316.0 0 0 1 988.6 591.6M986.0 584.3A320.0 320.0 0 0 1 992.8 590.0M986.0 583.4L991.2 577.0M988.7 583.8L992.2 579.6M986.9 582.3A322.1 322.1 0 0 1 988.7 583.8M992.9 582.6L998.4 575.9M995.3 583.5L1001.8 575.8M993.4 581.9A326.5 326.5 0 0 1 995.3 583.5M998.1 583.9L1004.5 576.4M986.3 608.2L990.3 603.8M989.1 602.7A308.0 308.0 0 0 1 1000.1 612.9M989.8 601.1L993.8 596.5M991.7 602.0L996.0 597.2M990.2 600.7A310.2 310.2 0 0 1 991.7 602.0M994.3 602.1L999.6 596.3M997.0 602.2L1001.8 597.0M995.5 600.8A313.6 313.6 0 0 1 997.0 602.2M999.5 602.6L1005.9 595.7M992.3 605.6L1081.3 508.1M995.8 608.8L1010.9 592.8M1000.1 612.9L1023.2 589.4M1022.8 588.9A341.0 341.0 0 0 1 1029.5 595.7M1022.8 588.9L1041.6 569.6M1029.1 595.3L1045.6 579.2M1025.3 588.1L1028.0 585.3M1028.6 588.5L1032.2 585.0M1026.7 586.6A345.4 345.4 0 0 1 1028.6 588.5M1031.7 589.3L1035.2 585.8M994.4 696.7L1004.3 690.3M952.0 631.4A262.0 262.0 0 0 1 1035.8 758.6M999.1 637.8L1006.5 631.1M1004.0 628.4A300.0 300.0 0 0 1 1011.0 636.2M1004.0 628.4L1012.8 620.2M1007.7 623.5A306.0 306.0 0 0 1 1009.8 625.9M1008.6 633.4L1015.3 627.4M1009.8 630.3A303.0 303.0 0 0 1 1018.4 640.3M1013.7 633.9A303.5 303.5 0 0 1 1036.8 664.2M1031.8 667.5A297.5 297.5 0 0 1 1036.9 675.3M1031.8 667.5L1036.8 664.2M1043.7 671.1A305.5 305.5 0 0 1 1053.1 687.2M1036.9 675.3L1043.7 671.1M1058.4 684.4A311.5 311.5 0 0 1 1063.4 694.0M1053.1 687.2L1058.4 684.4M1066.1 692.7A314.5 314.5 0 0 1 1075.2 712.6M1063.4 694.0L1066.1 692.7M1078.9 711.1A318.5 318.5 0 0 1 1088.5 737.8M1075.2 712.6L1078.9 711.1M1032.7 664.4A300.0 300.0 0 0 1 1047.0 687.6M1030.2 666.1L1035.2 662.7M1053.4 681.6A308.5 308.5 0 0 1 1063.0 700.2M1015.7 636.3L1019.7 632.9M1017.2 638.0L1021.3 634.6M1018.5 639.6L1022.6 636.2M1019.7 641.1L1023.6 637.9M1021.2 642.9L1025.1 639.7M1022.3 644.3L1026.5 641.1M1023.8 646.2L1027.8 643.0M1025.1 647.9L1028.7 645.2M1026.2 649.3L1029.8 646.6M1027.6 651.2L1031.2 648.5M1029.0 653.0L1032.6 650.4M1030.1 654.5L1033.9 651.8M1031.4 656.4L1035.1 653.7M1032.5 658.0L1036.3 655.3M1033.9 659.9L1040.9 655.0M1035.1 661.7L1042.5 656.6M1036.2 663.2L1043.0 658.6M1035.6 667.7L1040.9 664.2M1037.4 669.5L1042.7 666.0M1039.2 671.3L1044.6 667.9M1041.2 673.4L1047.0 669.8M1043.1 675.4L1048.6 672.1M1044.9 677.3L1051.9 673.1M1046.6 679.1L1053.9 674.8M1048.6 681.3L1055.5 677.4M1050.4 683.4L1057.4 679.5M1059.1 684.7L1063.6 682.2M1060.2 686.4L1064.7 684.0M1061.3 688.1L1065.8 685.7M1062.5 690.0L1067.8 687.3M1063.6 691.8L1068.9 689.2M1064.6 693.6L1070.3 690.8M1065.8 695.6L1072.2 692.5M1066.9 697.4L1072.6 694.7M1067.8 699.0L1073.5 696.3M1069.0 701.0L1076.3 697.6M1070.0 702.9L1077.2 699.6M1071.1 704.8L1077.9 701.7M1072.0 706.5L1079.0 703.4M1073.0 708.4L1077.3 706.5M1074.0 710.3L1078.4 708.5M1074.9 712.0L1079.4 710.1M1079.1 711.7L1082.9 710.1M1079.9 713.6L1083.7 712.0M1080.8 715.8L1084.5 714.3M1081.6 718.0L1085.5 716.5M1082.4 720.0L1086.0 718.6M1083.3 722.4L1086.9 721.0M1084.0 724.2L1087.5 722.9M1084.8 726.6L1089.5 725.0M1085.5 728.5L1090.0 726.9M1086.2 730.6L1090.7 729.1M1086.9 732.7L1091.4 731.2M1087.6 734.9L1092.3 733.3M1088.4 737.2L1092.8 735.8M1026.1 648.4L1040.4 637.4M1034.8 660.4L1057.9 644.5M1043.0 669.0L1059.0 658.9M1044.9 672.2L1058.6 663.8M1048.5 678.2L1058.9 672.1M1054.0 683.7L1076.7 671.1M1067.5 696.8L1092.8 684.7M1070.1 702.3L1085.6 695.2M1073.0 708.8L1084.0 704.1M1078.0 710.3L1096.4 702.6M1080.5 716.5L1095.4 710.6M1083.4 724.2L1094.7 720.1M1086.0 731.6L1302.1 658.8M1035.2 756.4L1060.0 748.8M1036.1 759.5L1062.0 751.9M1037.7 761.4L1056.9 755.9M1040.2 763.1L1071.1 754.6M1038.0 755.5A265.0 265.0 0 0 1 1043.2 775.2M1043.2 775.2L1048.1 774.1M1045.0 761.8A270.0 270.0 0 0 1 1050.7 787.0M1050.7 787.0L1070.4 783.6M1065.1 759.4A290.0 290.0 0 0 1 1073.6 808.7M1065.0 758.9L1089.1 752.5M1067.7 770.2L1083.3 766.8M1083.7 763.9A307.0 307.0 0 0 1 1085.2 770.7M1082.8 764.2L1102.2 759.7M1086.0 765.1L1117.3 758.0M1087.2 770.3A309.0 309.0 0 0 1 1088.1 775.1M1089.1 774.9L1109.7 771.0M1108.2 763.6A331.0 331.0 0 0 1 1113.2 793.2M1108.2 763.6L1131.7 758.6M1131.2 756.2A355.0 355.0 0 0 1 1132.1 760.4M1131.3 756.8L1141.1 754.6M1132.1 760.4L1170.3 752.4M1110.3 773.8L1153.6 765.9M1153.0 762.7A375.0 375.0 0 0 1 1154.0 768.5M1153.2 764.0L1164.0 762.0M1154.0 768.5L1159.9 767.5M1112.6 788.7L1153.2 783.2M1134.2 783.9A353.0 353.0 0 0 1 1134.7 787.5M1113.2 793.2L1121.1 792.3M1120.9 790.5A339.0 339.0 0 0 1 1121.5 795.2M1121.1 792.3L1154.9 788.2M1121.5 795.2L1134.4 793.8M1073.6 808.7L1075.1 808.6M1075.1 808.6A291.5 291.5 0 0 1 1075.8 846.7M1075.8 846.7L1086.3 847.2M1085.1 803.0A302.0 302.0 0 0 1 1081.6 887.5M1085.1 802.5L1112.9 799.7M1112.7 797.9A330.0 330.0 0 0 1 1113.1 801.4M1112.7 797.9L1130.6 796.0M1113.0 800.2L1140.8 797.4M1085.5 807.7L1103.5 806.2M1104.2 803.3A321.0 321.0 0 0 1 1104.7 808.4M1103.2 803.4L1112.2 802.6M1104.7 808.4L1128.6 806.5M1128.3 803.5A345.0 345.0 0 0 1 1129.4 821.6M1128.3 803.5L1144.3 802.2M1129.4 821.6L1140.4 821.2M1141.1 814.3A357.0 357.0 0 0 1 1141.2 849.8M1141.1 814.3L1152.1 813.7M1141.3 819.3L1148.3 819.0M1141.6 829.3L1148.6 829.2M1141.6 836.7L1150.6 836.8M1141.2 849.8L1149.2 850.2M1141.2 816.8L1149.2 816.4M1149.1 814.5A365.0 365.0 0 0 1 1149.3 818.4M1149.1 814.5L1154.1 814.3M1149.3 818.4L1153.3 818.2M1141.5 826.8L1148.5 826.6M1148.5 824.7A364.0 364.0 0 0 1 1148.6 828.6M1148.5 824.7L1154.5 824.6M1148.6 828.6L1152.6 828.5M1141.6 834.2L1150.6 834.3M1150.6 832.0A366.0 366.0 0 0 1 1150.6 836.5M1150.6 832.0L1156.6 832.0M1150.6 836.5L1155.6 836.6M1145.5 841.8L1150.5 841.9M1150.5 840.3A366.0 366.0 0 0 1 1150.4 843.5M1150.5 840.3L1155.5 840.4M1150.4 843.5L1155.4 843.7M1149.3 847.0A365.0 365.0 0 0 1 1148.7 858.5M1149.3 848.3L1155.3 848.5M1149.1 852.1L1158.1 852.6M1148.7 858.5L1166.7 859.7M1167.8 857.8A384.0 384.0 0 0 1 1163.7 894.4M1166.8 870.5L1170.7 870.9M1165.3 883.1L1168.3 883.5M1163.9 893.1L1167.8 893.7M1077.4 812.5A293.5 293.5 0 0 1 1078.0 840.7M1079.7 817.5A295.5 295.5 0 0 1 1080.1 833.0M1081.6 887.5L1092.5 889.5M1093.2 885.2A313.0 313.0 0 0 1 1091.5 894.3M1093.2 885.2L1103.1 886.9M1091.5 894.3L1097.4 895.5M1098.5 890.0A319.0 319.0 0 0 1 1096.2 901.5M1098.6 889.5L1118.2 893.0M1114.3 892.3L1118.2 893.0M1118.6 891.3A339.0 339.0 0 0 1 1117.9 894.8M1118.6 891.3L1122.5 892.0M1117.9 894.8L1120.9 895.3M1096.2 901.5L1104.0 903.2M1104.8 899.3A327.0 327.0 0 0 1 1103.1 907.1M1104.8 899.3L1110.7 900.5M1111.1 898.3A333.0 333.0 0 0 1 1110.2 902.8M1103.1 907.1L1109.9 908.7M1110.4 906.4A334.0 334.0 0 0 1 1109.1 912.1M1110.4 906.4L1119.2 908.4M1109.1 912.1L1113.0 913.1M1113.7 910.2A338.0 338.0 0 0 1 1112.1 916.5M1113.7 910.2L1121.5 912.0M1112.1 916.5L1118.9 918.2M1118.9 918.2A345.0 345.0 0 0 1 1113.1 938.5M1119.8 914.7L1135.3 918.5M1119.2 917.0L1134.7 920.9M1117.4 924.0L1149.2 932.7M1151.7 927.3A379.0 379.0 0 0 1 1147.4 942.5M1151.5 927.9L1183.5 936.2M1151.0 929.8L1164.6 933.4M1150.3 932.4L1161.0 935.3M1148.7 938.1L1153.5 939.5M1147.4 942.5L1154.1 944.6M1152.6 942.7L1156.4 943.8M1156.9 942.2A388.0 388.0 0 0 1 1155.9 945.5M1156.9 942.2L1160.7 943.3M1155.9 945.5L1159.8 946.6M1114.0 935.6L1146.5 945.7M1116.9 936.5A348.0 348.0 0 0 1 1114.4 944.0M1117.1 938.5L1124.6 940.8M1118.2 942.0L1125.3 944.3M1119.1 939.1A351.0 351.0 0 0 1 1118.2 942.0M1120.4 946.0L1126.2 948.0M1113.1 938.5L1117.8 940.0M1117.8 940.0A350.0 350.0 0 0 1 1099.2 986.4M1111.1 951.9A347.5 347.5 0 0 1 1104.5 968.8M1113.6 949.5A349.0 349.0 0 0 1 1103.4 975.0M1112.9 954.4L1127.9 960.0M1129.0 957.0A366.0 366.0 0 0 1 1125.6 965.9M1129.0 957.0L1134.6 959.0M1127.6 960.6L1137.0 964.1M1126.1 964.8L1143.8 971.6M1131.2 965.3A371.0 371.0 0 0 1 1127.6 974.4M1127.6 974.4L1133.2 976.7M1131.4 973.1A374.0 374.0 0 0 1 1127.1 983.3M1131.4 973.1L1136.0 975.0M1129.9 976.7L1141.0 981.3M1127.1 983.3L1130.7 984.9M1125.1 980.3L1135.2 984.7M1129.7 982.3A376.0 376.0 0 0 1 1124.8 993.1M1124.8 993.1L1130.2 995.6M1099.2 986.4L1106.4 989.9M1110.4 981.5A358.0 358.0 0 0 1 1106.4 989.9M1110.4 981.5L1123.1 987.3M1120.5 983.3A368.0 368.0 0 0 1 1118.4 987.9M1107.7 987.1L1120.4 993.2M1106.4 989.9L1108.2 990.8M1108.2 990.8A360.0 360.0 0 0 1 1089.6 1024.3M1098.8 1003.6A357.5 357.5 0 0 1 1091.0 1017.1M1101.4 1001.4A358.8 358.8 0 0 1 1090.5 1020.5M1103.3 1000.3L1114.0 1005.9M1118.4 999.4A373.0 373.0 0 0 1 1104.3 1025.1M1117.8 1000.6L1140.2 1011.8M1116.9 1002.3L1123.2 1005.5M1115.5 1005.2L1125.2 1010.3M1113.0 1009.8L1120.9 1014.1M1110.8 1013.8L1120.5 1019.2M1109.6 1016.1L1113.9 1018.6M1114.7 1017.1A378.0 378.0 0 0 1 1113.1 1020.0M1114.7 1017.1L1118.2 1019.1M1113.1 1020.0L1115.7 1021.5M1107.0 1020.6L1110.4 1022.6M1104.3 1025.1L1108.6 1027.7M1089.6 1024.3L1104.8 1033.9M1104.8 1033.9A378.0 378.0 0 0 1 1066.8 1084.5M1103.0 1036.7L1107.3 1039.3M1098.7 1043.3L1108.7 1050.0M1087.3 1059.4L1089.7 1061.2M1080.0 1068.8L1085.5 1073.2M1081.5 1073.4A382.0 382.0 0 0 1 1073.8 1082.6M1066.8 1084.5L1076.5 1093.1M1077.3 1093.8A392.0 392.0 0 0 1 1026.5 1141.5M1075.0 1096.3L1078.7 1099.7M1070.4 1101.3L1072.5 1103.4M1061.8 1110.2L1063.6 1112.0M1050.4 1121.1L1053.2 1124.0M1045.4 1125.7L1047.0 1127.5M1040.2 1130.2L1041.9 1132.1M1033.9 1135.5L1035.9 1137.8M1027.0 1141.1L1028.9 1143.4M882.3 962.2L945.7 1046.0M883.1 962.8A163.0 163.0 0 0 1 881.6 964.0M881.6 964.0L934.5 1035.6M882.0 966.1L888.0 974.2M887.7 974.4A175.0 175.0 0 0 1 884.5 976.7M885.6 978.3A177.0 177.0 0 0 1 872.6 986.6M872.6 986.6L874.1 989.2M874.1 989.2A180.0 180.0 0 0 1 871.9 990.4M872.1 990.3L885.3 1013.9M886.2 1013.3A207.0 207.0 0 0 1 880.8 1016.3M880.8 1016.3L890.6 1034.9M894.1 1033.0A228.0 228.0 0 0 1 869.6 1044.5M886.2 1013.3L912.2 1059.5M894.1 1033.0L904.7 1052.3M887.0 1014.0L905.0 1045.7M887.6 1017.8L903.9 1047.1M888.9 1023.0L904.7 1051.8M889.4 1026.8L904.5 1054.7M886.8 1013.0A207.0 207.0 0 0 1 885.0 1014.0M896.5 1031.6A228.0 228.0 0 0 1 893.0 1033.6M883.7 986.8L930.9 1060.0M906.8 1025.5L925.0 1054.2M905.8 1051.7L935.4 1105.0M909.7 1024.8L924.5 1047.6M909.6 1027.8L924.9 1051.6M909.3 1030.2L924.0 1053.5M910.3 1034.9L923.1 1055.4M885.9 987.8L903.4 1014.6M886.4 987.4A185.0 185.0 0 0 1 879.3 991.9M879.3 991.9L891.6 1012.5M880.2 991.4L889.5 1006.8M881.8 991.6L892.2 1008.5M881.4 993.0L890.7 1008.5M880.9 994.3L890.4 1010.3M880.1 995.2L889.7 1011.4M909.4 996.9L913.7 1002.4M909.0 997.9L913.0 1003.2M908.8 999.3L912.2 1003.8M908.3 1000.2L911.9 1005.0M924.9 1017.8L934.1 1029.9M924.6 1020.5L933.7 1032.7M924.4 1023.3L932.6 1034.5M896.6 1002.3A203.0 203.0 0 0 1 894.3 1003.8" fill="none" stroke="#000" stroke-width="1.1" stroke-linecap="butt" />
</g>
<g id="rings" shape-rendering="geometricPrecision">
<path d="M782.06 106.00A727.0 727.0 0 0 1 1092.42 174.38L1080.31 200.29A698.4 698.4 0 0 0 782.16 134.60Z" fill="#D9613A"/>
<path d="M1091.96 174.17A727.0 727.0 0 0 1 1160.01 210.43L1145.24 234.92A698.4 698.4 0 0 0 1079.87 200.09Z" fill="#9ACA3C"/>
<path d="M1159.58 210.17A727.0 727.0 0 0 1 1478.79 617.05L1451.48 625.55A698.4 698.4 0 0 0 1144.82 234.67Z" fill="#CFDC3C"/>
<path d="M1478.64 616.57A727.0 727.0 0 0 1 1508.37 764.58L1479.90 767.27A698.4 698.4 0 0 0 1451.33 625.08Z" fill="#9ACA3C"/>
<path d="M1508.33 764.08A727.0 727.0 0 0 1 1501.84 951.74L1473.62 947.07A698.4 698.4 0 0 0 1479.85 766.79Z" fill="#148C48"/>
<path d="M1501.92 951.24A727.0 727.0 0 0 1 1494.45 989.98L1466.52 983.80A698.4 698.4 0 0 0 1473.70 946.59Z" fill="#9ACA3C"/>
<path d="M1494.56 989.48A727.0 727.0 0 0 1 1492.62 998.02L1464.77 991.53A698.4 698.4 0 0 0 1466.63 983.33Z" fill="#F9E07A"/>
<path d="M1492.74 997.53A727.0 727.0 0 0 1 1491.25 1003.82L1463.45 997.10A698.4 698.4 0 0 0 1464.88 991.06Z" fill="#9ACA3C"/>
<path d="M1491.36 1003.33A727.0 727.0 0 0 1 1230.58 1407.13L1213.04 1384.55A698.4 698.4 0 0 0 1463.56 996.63Z" fill="#F9E07A"/>
<path d="M1230.99 1406.82A727.0 727.0 0 0 1 1144.58 1464.62L1130.42 1439.77A698.4 698.4 0 0 0 1213.42 1384.25Z" fill="#D9613A"/>
<path d="M1145.02 1464.37A727.0 727.0 0 1 1 655.86 117.49L660.92 145.64A698.4 698.4 0 1 0 1130.84 1439.53Z" fill="#6C3694"/>
<path d="M888.83 84.72A755.5 755.5 0 0 1 914.10 88.68L909.22 116.76A727.0 727.0 0 0 0 884.90 112.95Z" fill="#EBAA38"/>
<path d="M1333.53 313.91A755.5 755.5 0 0 1 1505.92 608.33L1478.71 616.81A727.0 727.0 0 0 0 1312.82 333.49Z" fill="#BD6960"/>
<path d="M1430.14 1225.50A755.5 755.5 0 0 1 1427.04 1230.55L1402.81 1215.56A727.0 727.0 0 0 0 1405.79 1210.69Z" fill="#8258A6"/>
<path d="M1419.58 1242.37A755.5 755.5 0 0 1 1354.96 1328.45L1333.44 1309.76A727.0 727.0 0 0 0 1395.62 1226.93Z" fill="#8258A6"/>
<path d="M1355.30 1328.06A755.5 755.5 0 0 1 1248.17 1429.56L1230.68 1407.05A727.0 727.0 0 0 0 1333.77 1309.38Z" fill="#BD6960"/>
<path d="M1043.99 1542.58A755.5 755.5 0 0 1 1038.78 1544.46L1029.19 1517.62A727.0 727.0 0 0 0 1034.20 1515.81Z" fill="#C33126"/>
<path d="M1039.28 1544.28A755.5 755.5 0 0 1 1028.82 1547.94L1019.61 1520.97A727.0 727.0 0 0 0 1029.67 1517.45Z" fill="#5AA896"/>
<path d="M1029.32 1547.77A755.5 755.5 0 0 1 1024.07 1549.54L1015.04 1522.51A727.0 727.0 0 0 0 1020.09 1520.80Z" fill="#C33126"/>
<path d="M1024.57 1549.37A755.5 755.5 0 0 1 1015.68 1552.29L1006.96 1525.16A727.0 727.0 0 0 0 1015.52 1522.35Z" fill="#5AA896"/>
<path d="M1016.18 1552.13A755.5 755.5 0 0 1 997.15 1557.98L989.13 1530.64A727.0 727.0 0 0 0 1007.44 1525.00Z" fill="#8A9BBC"/>
<path d="M997.66 1557.84A755.5 755.5 0 0 1 992.08 1559.45L984.26 1532.05A727.0 727.0 0 0 0 989.62 1530.49Z" fill="#A2BB6C"/>
<path d="M992.59 1559.31A755.5 755.5 0 0 1 986.37 1561.06L978.76 1533.59A727.0 727.0 0 0 0 984.74 1531.91Z" fill="#5AA896"/>
<path d="M986.88 1560.92A755.5 755.5 0 0 1 982.68 1562.07L975.21 1534.57A727.0 727.0 0 0 0 979.25 1533.46Z" fill="#BD6960"/>
<path d="M983.19 1561.93A755.5 755.5 0 0 1 977.08 1563.57L969.82 1536.01A727.0 727.0 0 0 0 975.70 1534.43Z" fill="#0D5E7C"/>
<path d="M977.59 1563.44A755.5 755.5 0 0 1 972.10 1564.86L965.03 1537.25A727.0 727.0 0 0 0 970.31 1535.88Z" fill="#8A9BBC"/>
<path d="M972.61 1564.73A755.5 755.5 0 0 1 963.79 1566.94L957.03 1539.26A727.0 727.0 0 0 0 965.52 1537.13Z" fill="#C33126"/>
<path d="M964.30 1566.82A755.5 755.5 0 0 1 881.91 1582.21L878.23 1553.94A727.0 727.0 0 0 0 957.52 1539.14Z" fill="#BD6960"/>
<path d="M882.43 1582.14A755.5 755.5 0 0 1 875.76 1582.98L872.32 1554.69A727.0 727.0 0 0 0 878.74 1553.88Z" fill="#8A9BBC"/>
<path d="M876.28 1582.92A755.5 755.5 0 0 1 871.30 1583.51L868.03 1555.20A727.0 727.0 0 0 0 872.82 1554.63Z" fill="#C33126"/>
<path d="M871.83 1583.45A755.5 755.5 0 0 1 867.24 1583.97L864.12 1555.64A727.0 727.0 0 0 0 868.54 1555.14Z" fill="#8A9BBC"/>
<path d="M867.77 1583.91A755.5 755.5 0 0 1 364.21 1460.74L380.07 1437.06A727.0 727.0 0 0 0 864.63 1555.58Z" fill="#EBAA38"/>
<path d="M364.65 1461.03A755.5 755.5 0 0 1 360.06 1457.93L376.07 1434.36A727.0 727.0 0 0 0 380.49 1437.34Z" fill="#B2DCA8"/>
<path d="M360.49 1458.23A755.5 755.5 0 0 1 355.92 1455.10L372.09 1431.64A727.0 727.0 0 0 0 376.49 1434.64Z" fill="#C33126"/>
<path d="M356.35 1455.40A755.5 755.5 0 0 1 351.59 1452.10L367.92 1428.74A727.0 727.0 0 0 0 372.51 1431.92Z" fill="#B2DCA8"/>
<path d="M352.02 1452.40A755.5 755.5 0 0 1 348.03 1449.59L364.50 1426.33A727.0 727.0 0 0 0 368.34 1429.03Z" fill="#C33126"/>
<path d="M348.46 1449.90A755.5 755.5 0 0 1 339.25 1443.28L356.05 1420.26A727.0 727.0 0 0 0 364.91 1426.63Z" fill="#EBAA38"/>
<path d="M339.68 1443.59A755.5 755.5 0 0 1 223.86 1339.31L245.01 1320.21A727.0 727.0 0 0 0 356.46 1420.56Z" fill="#BD6960"/>
<path d="M224.21 1339.70A755.5 755.5 0 0 1 39.66 707.14L67.76 711.88A727.0 727.0 0 0 0 245.35 1320.59Z" fill="#EBAA38"/>
<path d="M42.14 693.25A755.5 755.5 0 0 1 650.81 89.44L655.86 117.49A727.0 727.0 0 0 0 70.15 698.52Z" fill="#EBAA38"/>
<path d="M803.19 1588.27A755.5 755.5 0 0 1 798.71 1588.37L798.18 1559.87A727.0 727.0 0 0 0 802.49 1559.78Z" fill="#8A9BBC"/>
<path d="M779.72 1588.48A755.5 755.5 0 0 1 774.05 1588.43L774.45 1559.93A727.0 727.0 0 0 0 779.91 1559.98Z" fill="#177CA0"/>
<path d="M149.77 1242.59A755.5 755.5 0 0 1 146.64 1237.71L170.71 1222.44A727.0 727.0 0 0 0 173.71 1227.14Z" fill="#BD6960"/>
<path d="M32.37 903.18A755.5 755.5 0 0 1 31.93 898.32L60.32 895.86A727.0 727.0 0 0 0 60.74 900.53Z" fill="#177CA0"/>
<path d="M30.42 877.67A755.5 755.5 0 0 1 30.22 874.12L58.68 872.57A727.0 727.0 0 0 0 58.87 875.99Z" fill="#5AA896"/>
<path d="M29.90 867.80A755.5 755.5 0 0 1 29.75 864.24L58.22 863.06A727.0 727.0 0 0 0 58.37 866.49Z" fill="#177CA0"/>
<path d="M30.29 790.56A755.5 755.5 0 0 1 30.62 785.04L59.07 786.84A727.0 727.0 0 0 0 58.75 792.16Z" fill="#177CA0"/>
<path d="M32.06 766.23A755.5 755.5 0 0 1 32.59 760.46L60.96 763.19A727.0 727.0 0 0 0 60.44 768.75Z" fill="#177CA0"/>
<path d="M34.03 746.82A755.5 755.5 0 0 1 34.60 741.97L62.90 745.41A727.0 727.0 0 0 0 62.35 750.07Z" fill="#177CA0"/>
<path d="M127.89 459.48A755.5 755.5 0 0 1 129.99 455.82L154.68 470.05A727.0 727.0 0 0 0 152.67 473.57Z" fill="#177CA0"/>
<path d="M898.07 57.05A784.2 784.2 0 0 1 919.02 60.41L914.10 88.68A755.5 755.5 0 0 0 893.92 85.45Z" fill="#1B95BA"/>
<path d="M870.79 1612.45A784.2 784.2 0 0 1 355.89 1489.64L371.58 1465.61A755.5 755.5 0 0 0 867.64 1583.92Z" fill="#1B95BA"/>
<path d="M352.46 1487.39A784.2 784.2 0 0 1 347.44 1484.05L363.44 1460.22A755.5 755.5 0 0 0 368.27 1463.44Z" fill="#1B95BA"/>
<path d="M331.78 1473.25A784.2 784.2 0 0 1 322.77 1466.79L339.68 1443.59A755.5 755.5 0 0 0 348.35 1449.82Z" fill="#1B95BA"/>
<path d="M202.74 1358.75A784.2 784.2 0 0 1 11.38 702.22L39.68 707.01A755.5 755.5 0 0 0 224.04 1339.51Z" fill="#1B95BA"/>
<path d="M13.93 687.94A784.2 784.2 0 0 1 645.73 61.19L650.81 89.44A755.5 755.5 0 0 0 42.14 693.25Z" fill="#1B95BA"/>
<path d="M808.96 1616.82A784.2 784.2 0 0 1 799.65 1617.06L799.10 1588.36A755.5 755.5 0 0 0 808.07 1588.14Z" fill="#fff"/>
<path d="M783.78 1617.20A784.2 784.2 0 0 1 774.47 1617.13L774.84 1588.44A755.5 755.5 0 0 0 783.81 1588.50Z" fill="#fff"/>
<path d="M125.21 1257.46A784.2 784.2 0 0 1 122.92 1253.89L147.13 1238.48A755.5 755.5 0 0 0 149.34 1241.93Z" fill="#fff"/>
<path d="M3.70 904.89A784.2 784.2 0 0 1 3.32 900.67L31.92 898.19A755.5 755.5 0 0 0 32.28 902.26Z" fill="#fff"/>
<path d="M1.78 879.51A784.2 784.2 0 0 1 1.55 875.41L30.21 873.86A755.5 755.5 0 0 0 30.43 877.81Z" fill="#fff"/>
<path d="M1.24 869.39A784.2 784.2 0 0 1 1.07 865.29L29.74 864.11A755.5 755.5 0 0 0 29.91 868.06Z" fill="#fff"/>
<path d="M1.69 787.99A784.2 784.2 0 0 1 1.95 783.76L30.59 785.56A755.5 755.5 0 0 0 30.35 789.64Z" fill="#fff"/>
<path d="M3.55 762.74A784.2 784.2 0 0 1 3.95 758.52L32.52 761.24A755.5 755.5 0 0 0 32.14 765.32Z" fill="#fff"/>
<path d="M5.66 742.32A784.2 784.2 0 0 1 6.15 738.25L34.64 741.71A755.5 755.5 0 0 0 34.17 745.64Z" fill="#fff"/>
<path d="M103.28 444.70A784.2 784.2 0 0 1 105.26 441.26L130.12 455.59A755.5 755.5 0 0 0 128.22 458.91Z" fill="#fff"/>
<path d="M168.50 347.83A784.2 784.2 0 0 1 171.13 344.50L193.59 362.38A755.5 755.5 0 0 0 191.05 365.59Z" fill="#fff"/>
<path d="M782.16 134.60A698.4 698.4 0 1 1 660.92 145.64" fill="none" stroke="#000" stroke-width="1.05"/>
<path d="M782.06 106.00A727.0 727.0 0 1 1 655.86 117.49" fill="none" stroke="#000" stroke-width="1.4"/>
<path d="M781.96 77.50A755.5 755.5 0 1 1 650.81 89.44" fill="none" stroke="#000" stroke-width="1.3"/>
<path d="M781.86 48.90A784.1 784.1 0 1 1 645.75 61.29" fill="none" stroke="#000" stroke-width="1.0"/>
</g>
<g id="labels" font-family="'Liberation Sans', Arial, Helvetica, sans-serif">
<text x="915" y="21.9" font-size="29" fill="#7A8CA3" text-anchor="middle">F99/W</text>
<text x="326.8" y="977.8" font-size="29" fill="#DD2A2A">LAT-1</text>
<text x="1286" y="534" font-size="29" text-anchor="middle">LAT-2</text>
<text x="1286" y="569.3" font-size="29" text-anchor="middle">(<tspan fill="#BD6960">Mexico</tspan>)</text>
<text x="1211.8" y="1158.1" font-size="29" text-anchor="middle">LAT-3</text>
<text x="1211.5" y="1193.4" font-size="29" text-anchor="middle">(<tspan fill="#8258A6">Haiti,</tspan> <tspan fill="#BD6960">Mexico</tspan>)</text>
<text x="654.5" y="1288.5" font-size="24.7" fill="#555">Tree scale: 0.001</text>
<path d="M867.5 1272.7V1287.7M867.5 1280.2H917M917 1272.7V1287.7" stroke="#000" stroke-width="1.5" fill="none"/>
<text x="772.6" y="73.4" font-size="24.6" font-weight="bold" text-anchor="end">3</text>
<text x="772.6" y="101.8" font-size="24.6" font-weight="bold" text-anchor="end">2</text>
<text x="772.6" y="129.7" font-size="24.6" font-weight="bold" text-anchor="end">1</text>
</g>
<g id="legend" font-family="'Liberation Sans', Arial, Helvetica, sans-serif" font-size="25">
<text x="1683.5" y="78.7" font-weight="bold" font-size="24.85">1. Fastbaps cluster</text>
<path d="M1679.6 91.8H1839.8" stroke="#000" stroke-width="1.8" fill="none"/>
<rect x="1683.3" y="103.85" width="33.7" height="33.4" fill="#F9E07A" stroke="#000" stroke-width="1.7"/>
<text x="1733.4" y="129.0">Cluster 1</text>
<rect x="1683.3" y="154.05" width="33.7" height="33.4" fill="#148C48" stroke="#000" stroke-width="1.7"/>
<text x="1733.4" y="179.2">Cluster 2</text>
<rect x="1683.3" y="204.25" width="33.7" height="33.4" fill="#CFDC3C" stroke="#000" stroke-width="1.7"/>
<text x="1733.4" y="229.4">Cluster 3</text>
<rect x="1683.3" y="254.45" width="33.7" height="33.4" fill="#9ACA3C" stroke="#000" stroke-width="1.7"/>
<text x="1733.4" y="279.6">Cluster 4</text>
<rect x="1683.3" y="304.65" width="33.7" height="33.4" fill="#D9613A" stroke="#000" stroke-width="1.7"/>
<text x="1733.4" y="329.8">Cluster 5</text>
<rect x="1683.3" y="354.85" width="33.7" height="33.4" fill="#6C3694" stroke="#000" stroke-width="1.7"/>
<text x="1733.4" y="380.0">Cluster 6</text>
<text x="1683.5" y="438.1" font-weight="bold" font-size="24.85">2. Country (Americas)</text>
<path d="M1679.6 451.0H1911" stroke="#000" stroke-width="1.8" fill="none"/>
<rect x="1683.3" y="463.00" width="33.7" height="33.4" fill="#EBAA38" stroke="#000" stroke-width="1.7"/>
<text x="1733.4" y="487.8">Argentina</text>
<rect x="1683.3" y="513.20" width="33.7" height="33.4" fill="#177CA0" stroke="#000" stroke-width="1.7"/>
<text x="1733.4" y="538.0">Bolivia</text>
<rect x="1683.3" y="563.40" width="33.7" height="33.4" fill="#0D5E7C" stroke="#000" stroke-width="1.7"/>
<text x="1733.4" y="588.2">Ecuador</text>
<rect x="1683.3" y="613.60" width="33.7" height="33.4" fill="#8A9BBC" stroke="#000" stroke-width="1.7"/>
<text x="1733.4" y="638.4">Peru</text>
<rect x="1683.3" y="663.80" width="33.7" height="33.4" fill="#5AA896" stroke="#000" stroke-width="1.7"/>
<text x="1733.4" y="688.6">Colombia</text>
<rect x="1683.3" y="714.00" width="33.7" height="33.4" fill="#8258A6" stroke="#000" stroke-width="1.7"/>
<text x="1733.4" y="738.8">Haiti</text>
<rect x="1683.3" y="764.20" width="33.7" height="33.4" fill="#A2BB6C" stroke="#000" stroke-width="1.7"/>
<text x="1733.4" y="789.0">Chile</text>
<rect x="1683.3" y="814.40" width="33.7" height="33.4" fill="#B2DCA8" stroke="#000" stroke-width="1.7"/>
<text x="1733.4" y="839.2">French Guiana</text>
<rect x="1683.3" y="864.60" width="33.7" height="33.4" fill="#BD6960" stroke="#000" stroke-width="1.7"/>
<text x="1733.4" y="889.4">Mexico</text>
<rect x="1683.3" y="914.80" width="33.7" height="33.4" fill="#C33126" stroke="#000" stroke-width="1.7"/>
<text x="1733.4" y="939.6">Brazil</text>
<text x="1683.5" y="999.4" font-weight="bold" font-size="24.85">3. This study</text>
<path d="M1679.6 1012.8H1850.7" stroke="#000" stroke-width="1.8" fill="none"/>
<rect x="1683.3" y="1024.15" width="33.7" height="33.4" fill="#1B95BA" stroke="#000" stroke-width="1.7"/>
<text x="1733.4" y="1049.4">Sequenced in this study</text>
</g>
</svg>
</body>
</html>
